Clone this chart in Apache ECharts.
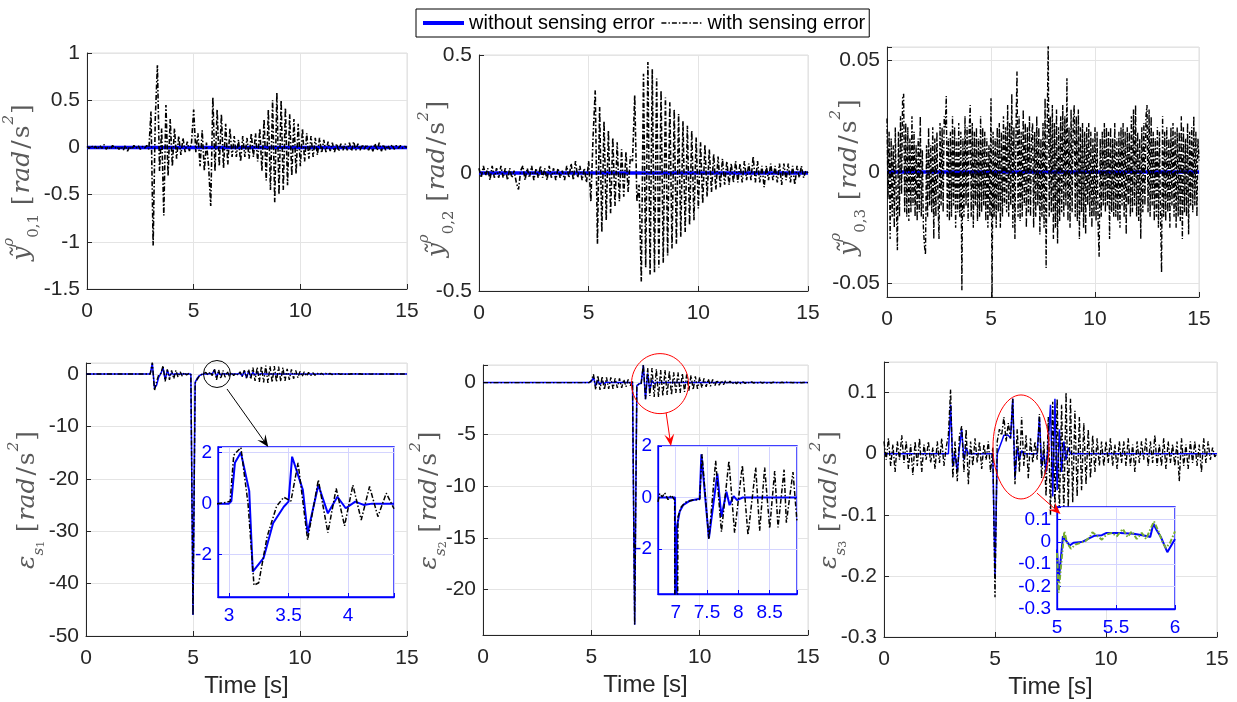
<!DOCTYPE html>
<html>
<head>
<meta charset="utf-8">
<title>sensing error</title>
<script src="https://cdn.jsdelivr.net/npm/echarts@6/dist/echarts.min.js"></script>
<style>
    html, body { margin: 0; padding: 0; background: #fff; }
    #main { width: 1237px; height: 702px; }
</style>
</head>
<body>
<div id="main"></div>
<script>
// sample step of the long records [s]
var dt = 0.1;
var dt3 = 0.05;
var tSpan = [0, 15];
var flatOk = [0, 0];

// top row, with sensing error (0 .. 15 s, one value every 0.1 s)
var y01Err = [
    0.01,-0.01,0.02,-0.01,0.01,-0.02,0.02,-0.01,0.03,-0.02,
    0.01,-0.02,0.02,-0.01,0.01,-0.02,0.01,-0.03,0.02,-0.04,
    0.01,-0.02,0.02,-0.01,0.02,-0.02,0.01,-0.01,0.02,-0.02,
    0.38,-1.04,0.3,0.87,-0.25,0.2,-0.72,0.45,-0.3,0.3,
    -0.2,0.2,-0.12,0.12,-0.08,0.1,-0.05,0.06,-0.04,0.05,
    0.4,-0.05,0.15,-0.2,0.18,-0.25,0.05,-0.2,-0.62,0.53,
    -0.25,0.4,-0.2,0.35,-0.22,0.25,-0.18,0.2,-0.1,0.12,
    -0.1,0.08,-0.15,0.12,-0.1,0.1,-0.12,0.15,-0.1,0.15,
    -0.15,0.2,-0.25,0.3,-0.35,0.4,-0.45,0.5,-0.58,0.58,
    -0.5,0.5,-0.45,0.42,-0.4,0.35,-0.3,0.3,-0.28,0.25,
    -0.2,0.2,-0.15,0.15,-0.12,0.12,-0.1,0.1,-0.08,0.1,
    -0.06,0.08,-0.05,0.06,-0.04,0.05,-0.05,0.04,-0.04,0.04,
    -0.03,0.04,-0.03,0.05,-0.04,0.06,-0.03,0.04,-0.03,0.03,
    -0.02,0.03,-0.03,0.02,-0.04,0.04,-0.03,0.05,-0.04,0.03,
    -0.03,0.02,-0.02,0.03,-0.02,0.02,-0.01,0.02,-0.01,0.01,
    0
];
var y02Err = [
    0.02,-0.02,0.03,-0.01,0.02,-0.03,0.03,-0.02,0.02,-0.02,
    0.03,-0.02,0.02,-0.03,0.02,-0.02,0.01,-0.04,-0.07,0.01,
    0.03,-0.03,0.02,-0.02,0.03,-0.03,0.02,-0.02,0.03,-0.02,
    0.02,-0.03,0.03,-0.02,0.02,-0.03,0.02,-0.02,0.01,-0.03,
    0.03,-0.02,0.04,-0.03,0.05,-0.02,0.03,-0.03,0.02,-0.04,
    0.05,-0.12,0.15,0.35,-0.3,0.28,-0.25,0.22,-0.2,0.18,
    -0.17,0.15,-0.14,0.13,-0.12,0.1,-0.1,0.09,-0.08,0.07,
    0.05,0.33,-0.12,-0.05,-0.46,0.42,-0.4,0.47,-0.43,0.44,
    -0.42,0.4,-0.4,0.35,-0.38,0.32,-0.35,0.3,-0.32,0.27,
    -0.3,0.25,-0.27,0.22,-0.25,0.2,-0.22,0.18,-0.2,0.15,
    -0.15,0.13,-0.13,0.12,-0.1,0.1,-0.08,0.08,-0.07,0.07,
    -0.06,0.06,-0.05,0.05,-0.05,0.04,-0.04,0.05,-0.04,0.04,
    -0.04,0.05,-0.03,0.04,-0.03,0.07,-0.04,0.05,-0.04,0.03,
    -0.06,0.03,-0.03,0.04,-0.03,0.03,-0.04,0.04,-0.05,0.04,
    -0.03,0.04,-0.04,0.03,-0.05,0.03,-0.02,0.03,-0.02,0.01,
    0
];
// third channel is pure noise, read at 0.05 s
var y03Err = [
    0.024,-0.012,0.018,-0.03,0.015,-0.02,0.012,-0.025,0.02,-0.015,-0.035,0.018,-0.02,0.025,-0.01,0.033,0.035,-0.018,0.022,-0.02,
    0.02,-0.022,0.015,-0.018,0.025,-0.015,0.018,-0.02,0.012,-0.022,0.015,-0.018,0.025,-0.02,0.01,-0.025,-0.033,-0.037,0.012,-0.02,
    0.02,-0.015,0.012,-0.018,0.02,-0.03,0.015,-0.02,0.018,-0.012,-0.03,0.022,-0.015,0.02,-0.018,0.025,0.02,0.034,-0.02,0.015,
    -0.022,0.018,-0.02,0.025,-0.015,0.02,-0.025,0.015,-0.018,0.022,-0.02,0.018,-0.053,0.015,-0.02,0.025,-0.015,0.02,-0.022,0.018,
    0.03,-0.02,0.022,-0.025,0.018,-0.015,0.02,-0.022,0.015,-0.02,0.025,-0.018,0.02,-0.015,0.018,-0.022,0.015,-0.025,0.012,-0.02,
    0.033,-0.057,0.018,-0.02,0.015,-0.025,0.02,-0.018,0.022,-0.025,0.018,-0.02,0.025,-0.015,0.02,-0.018,0.03,-0.02,0.022,-0.015,
    0.035,-0.025,0.02,-0.03,0.018,0.045,-0.02,0.025,-0.022,0.018,-0.02,0.028,-0.015,0.022,-0.025,0.02,-0.018,0.025,-0.02,0.015,
    0.022,-0.025,0.018,-0.02,0.025,-0.015,0.02,-0.028,0.015,-0.02,0.022,-0.025,0.033,-0.043,0.02,0.057,-0.02,0.025,-0.018,0.03,
    -0.03,0.022,-0.025,0.028,-0.032,0.02,-0.022,0.025,-0.018,0.03,-0.02,0.025,-0.015,0.042,-0.022,0.02,-0.025,0.028,-0.018,0.022,
    0.03,-0.02,0.025,-0.022,0.028,-0.03,0.02,-0.018,0.022,-0.025,0.018,-0.028,0.02,-0.015,0.022,-0.02,0.018,-0.025,0.015,-0.02,
    0.02,-0.022,0.018,-0.025,-0.038,0.015,-0.02,0.018,-0.015,0.022,-0.018,0.02,-0.015,0.018,-0.03,0.02,-0.018,0.015,-0.02,0.022,
    -0.02,0.015,-0.022,0.018,-0.025,0.02,-0.015,0.022,-0.02,0.018,-0.028,0.02,-0.015,0.018,-0.02,0.025,-0.018,0.028,-0.015,0.03,
    -0.02,0.018,-0.022,0.015,-0.03,0.02,-0.018,0.022,-0.015,0.025,0.03,-0.018,0.028,-0.02,0.025,-0.015,0.018,-0.022,0.015,-0.02,
    0.02,-0.025,0.018,-0.02,-0.045,0.025,-0.02,0.018,-0.022,0.02,-0.018,0.015,-0.025,0.02,-0.015,0.022,-0.02,0.018,-0.025,0.02,
    -0.02,0.018,-0.022,0.025,-0.03,0.02,-0.018,0.015,-0.02,0.022,-0.028,0.018,-0.015,0.02,-0.018,0.025,-0.015,0.018,-0.02,0.015,
    0.005
];

// bottom row (0 .. 15 s, one value every 0.1 s)
var e1Ok = [
    0,0,0,0,0,0,0,0,0,0,
    0,0,0,0,0,0,0,0,0,0,
    0,0,0,0,0,0,0,0,0,0,
    0,2.0,-2.7,-2.1,-0.6,0.1,1.2,-1.1,0.7,-0.4,
    0.2,-0.1,0.05,0,0,0,0,0,0,0,
    -46,-1.6,-0.8,-0.3,-0.1,0,0,0,0.1,0,
    0.8,-0.5,0.3,-0.2,0.1,0,0,0,0,0,
    0,0,0.2,-0.4,0.6,-0.7,0.5,-0.4,0.3,-0.2,
    0.2,-0.1,0.1,0,0,0,0,0,0,0,
    0,0,0,0,0,0,0,0,0,0,
    0,0,0,0,0,0,0,0,0,0,
    0,0,0,0,0,0,0,0,0,0,
    0,0,0,0,0,0,0,0,0,0,
    0,0,0,0,0,0,0,0,0,0,
    0,0,0,0,0,0,0,0,0,0,
    0
];
var e1Err = [
    0,0,0,0,0,0,0,0,0,0,
    0,0,0,0,0,0,0,0,0,0,
    0,0,0,0,0,0,0,0,0,0,
    0,2.2,-3.2,-1.4,-0.1,0.1,1.6,-1.4,0.9,-1.1,
    0.7,-0.9,0.7,-0.6,0.4,-0.4,0.3,-0.2,0.1,0,
    -46,-1.8,-1.0,-0.4,-0.1,0.1,0.3,-0.2,0.4,-0.3,
    1.0,-1.1,0.8,-0.9,0.7,-0.6,0.5,-0.4,0.3,-0.3,
    0.2,-0.2,0.4,-0.5,0.7,-0.8,0.9,-1.0,1.2,-1.3,
    1.3,-1.5,1.5,-1.6,1.6,-1.7,1.5,-1.6,1.5,-1.5,
    1.4,-1.4,1.2,-1.3,1.0,-1.1,0.9,-0.9,0.7,-0.7,
    0.5,-0.5,0.4,-0.4,0.3,-0.3,0.25,-0.25,0.2,-0.2,
    0.15,-0.15,0.12,-0.12,0.1,-0.1,0.1,-0.08,0.08,-0.08,
    0.06,-0.06,0.06,-0.05,0.05,-0.05,0.04,-0.04,0.04,-0.04,
    0.03,-0.03,0.03,-0.03,0.03,-0.03,0.02,-0.02,0.02,-0.02,
    0.02,-0.02,0.01,-0.01,0.01,-0.01,0.01,-0.01,0,0,
    0
];
var e2Ok = [
    0,0,0,0,0,0,0,0,0,0,
    0,0,0,0,0,0,0,0,0,0,
    0,0,0,0,0,0,0,0,0,0,
    0,0,0,0,0,0,0,0,0,0,
    0,0,0,0,0,0,0,0,0,0,
    0.1,0.5,-0.3,0.2,-0.2,0.1,-0.1,0.05,0,0,
    0,0,0,0,0,0,0,0,0,0,
    -23.4,-0.3,-0.13,-0.05,1.7,-1.6,0.9,-0.75,0.2,-0.1,
    0,0,0,0,0,0,0,0,0,0,
    0,0,0,0,0,0,0,0,0,0,
    0,0,0,0,0,0,0,0,0,0,
    0,0,0,0,0,0,0,0,0,0,
    0,0,0,0,0,0,0,0,0,0,
    0,0,0,0,0,0,0,0,0,0,
    0,0,0,0,0,0,0,0,0,0,
    0
];
var e2Err = [
    0,0,0,0,0,0,0,0,0,0,
    0,0,0,0,0,0,0,0,0,0,
    0,0,0,0,0,0,0,0,0,0,
    0,0,0,0,0,0,0,0,0,0,
    0,0,0,0,0,0,0,0,0,0,
    0.2,0.8,-0.7,0.7,-0.7,0.6,-0.7,0.5,-0.6,0.5,
    -0.6,0.4,-0.5,0.4,-0.5,0.3,-0.4,0.3,-0.3,0.2,
    -23.4,-0.4,-0.1,-0.1,1.7,-1.6,1.4,-1.3,1.4,-1.4,
    1.3,-1.4,1.2,-1.3,1.2,-1.2,1.1,-1.2,1.0,-1.0,
    1.0,-1.0,0.9,-0.9,0.8,-0.8,0.7,-0.7,0.6,-0.6,
    0.5,-0.5,0.4,-0.4,0.35,-0.35,0.3,-0.3,0.25,-0.25,
    0.2,-0.2,0.2,-0.15,0.15,-0.15,0.1,-0.1,0.1,-0.1,
    0.08,-0.08,0.08,-0.07,0.07,-0.06,0.06,-0.06,0.05,-0.05,
    0.05,-0.05,0.04,-0.04,0.04,-0.04,0.03,-0.03,0.03,-0.03,
    0.03,-0.03,0.02,-0.02,0.02,-0.02,0.01,-0.01,0.01,0,
    0
];
var e3Ok = [
    0,0,0,0,0,0,0,0,0,0,
    0,0,0,0,0,0,0,0,0,0,
    0,0,0,0,0,0,0,0,0,0,
    0.08,-0.02,0,-0.03,0.01,0.04,-0.01,0.01,0,0,
    0,0,0,0,0,0,0,0,0,0,
    -0.2,0,0.01,0.02,0.03,0.03,0.03,0.025,0.09,-0.04,
    0.01,-0.01,0.005,0,0,0,0,0,0,0,
    0.06,-0.02,0,-0.03,0.02,0.08,-0.07,0.09,-0.06,0.04,
    -0.03,0.02,-0.01,0.01,0,0,0,0,0,0,
    0,0,0,0,0,0,0,0,0,0,
    0,0,0,0,0,0,0,0,0,0,
    0,0,0,0,0,0,0,0,0,0,
    0,0,0,0,0,0,0,0,0,0,
    0,0,0,0,0,0,0,0,0,0,
    0,0,0,0,0,0,0,0,0,0,
    0
];
var e3Err = [
    0.02,-0.01,0.025,-0.02,0.015,-0.03,0.02,-0.01,0.03,-0.015,
    0.02,-0.025,0.015,-0.035,0.02,-0.02,0.025,-0.03,0.015,-0.01,
    0.02,-0.015,0.01,-0.025,0.02,-0.015,0.025,-0.02,0.01,0.03,
    0.105,-0.04,0.02,-0.045,0.03,0.045,-0.03,0.04,-0.05,0.02,
    -0.02,0.025,-0.015,0.02,-0.025,0.015,-0.01,0.02,-0.03,0.01,
    -0.235,0.02,0.04,0.03,0.06,0.02,0.05,0.025,0.09,-0.05,
    0.04,-0.03,0.06,-0.02,0.03,-0.04,0.025,-0.015,0.02,-0.01,
    0.065,-0.04,0.02,-0.07,0.06,-0.1,0.085,-0.09,0.09,-0.1,
    0.08,-0.1,0.1,-0.09,0.09,-0.08,0.07,-0.07,0.06,-0.06,
    0.05,-0.05,0.04,-0.04,0.03,-0.03,0.025,-0.02,0.02,-0.02,
    0.02,-0.015,0.025,-0.02,0.015,-0.025,0.02,-0.015,0.02,-0.02,
    0.025,-0.02,0.015,-0.03,0.02,-0.015,0.02,-0.01,0.025,-0.02,
    0.02,-0.015,0.03,-0.02,0.015,-0.02,0.025,-0.025,0.02,-0.015,
    0.015,-0.02,0.02,-0.045,0.025,-0.02,0.015,-0.025,0.02,-0.015,
    0.02,-0.02,0.015,-0.03,0.025,-0.015,0.02,-0.01,0.01,-0.005,
    0
];

// zoomed windows
var in1TOk = [2.9, 3.0, 3.02, 3.05, 3.1, 3.17, 3.2, 3.29, 3.37, 3.46, 3.5, 3.53, 3.62, 3.66, 3.75, 3.83, 3.91, 3.98, 4.06, 4.13, 4.2, 4.385];
var in1Ok = [0, 0, 0.1, 1.6, 2.0, 0.5, -2.67, -2.14, -0.77, -0.12, 0.08, 1.84, 0.54, -1.16, 0.73, -0.38, 0.27, -0.18, 0.08, -0.05, 0, 0];
var in1TErr = [2.9, 2.98, 3.01, 3.04, 3.1, 3.16, 3.21, 3.25, 3.32, 3.4, 3.46, 3.52, 3.58, 3.66, 3.75, 3.83, 3.9, 3.97, 4.04, 4.11, 4.18, 4.25, 4.32, 4.385];
var in1Err = [0, 0.05, 0.1, 1.9, 2.2, 0.0, -3.2, -3.1, -1.3, -0.1, 0.25, 0.1, 1.6, -1.42, 0.93, -1.14, 0.6, -0.87, 0.73, -0.64, 0.67, -0.51, 0.41, -0.2];

var in2TOk = [6.718, 6.99, 7.0, 7.02, 7.064, 7.117, 7.223, 7.383, 7.41, 7.53, 7.665, 7.73, 7.81, 7.86, 7.925, 7.98, 8.07, 8.936];
var in2Ok = [0, 0, -23.4, -1.14, -0.55, -0.3, -0.13, -0.05, 1.68, -1.59, 0.93, -0.75, 0.22, -0.3, 0.05, -0.1, 0, 0];
var in2TErr = [6.718, 6.745, 6.787, 6.824, 6.878, 6.93, 6.984, 7.0, 7.037, 7.09, 7.17, 7.277, 7.383, 7.42, 7.53, 7.638, 7.73, 7.85, 7.94, 8.064, 8.154, 8.277, 8.34, 8.42, 8.5, 8.58, 8.633, 8.73, 8.766, 8.872, 8.936];
var in2Err = [-0.17, 0.15, 0.02, 0.18, -0.08, 0.09, -0.1, -23.4, -0.75, -0.36, -0.17, -0.1, -0.08, 1.68, -1.63, 1.42, -1.33, 1.42, -1.37, 1.25, -1.46, 1.16, -1.29, 1.16, -1.2, 1.03, -1.16, 1.08, -0.98, 0.99, -0.94];

var in3TOk = [5.0, 5.014, 5.05, 5.08, 5.107, 5.14, 5.21, 5.28, 5.32, 5.38, 5.42, 5.535, 5.65, 5.77, 5.79, 5.817, 5.845, 5.88, 5.935, 6.0];
var in3Ok = [-0.034, -0.18, 0.025, 0.003, -0.016, -0.004, -0.001, 0.018, 0.028, 0.03, 0.04, 0.04, 0.036, 0.025, 0.022, 0.081, 0.052, 0.022, -0.046, 0.013];
var in3TErr = [5.0, 5.014, 5.034, 5.062, 5.085, 5.118, 5.155, 5.197, 5.24, 5.28, 5.30, 5.344, 5.38, 5.42, 5.465, 5.507, 5.558, 5.597, 5.634, 5.676, 5.718, 5.755, 5.783, 5.822, 5.86, 5.896, 5.924, 5.958, 6.0];
var in3Err = [-0.05, -0.227, -0.108, 0.047, -0.004, -0.031, -0.012, -0.004, 0.003, 0.022, 0.043, 0.025, 0.01, 0.033, 0.04, 0.025, 0.058, 0.022, 0.047, 0.013, 0.04, 0.013, 0.047, 0.092, 0.047, -0.004, -0.027, -0.004, 0.047];

// axis ranges and tick steps
var yMin = [-1.5, -0.5, -0.056, -50, -24.4, -0.3];
var yMax = [1, 0.5, 0.056, 2.1, 1.7, 0.15];
var ySplit = [5, 2, 2, 5, 5, 4];
var yStep = [0.5, 0.5, 0.05, 10, 5, 0.1];
var inXMin = [2.908, 6.718, 5], inXMax = [4.385, 8.936, 6], inXSplit = [3, 4, 2];
var inYMin = [-3.66, -3.75, -0.3], inYMax = [2.22, 2, 0.156], inYSplit = [3, 3, 4], inYStep = [2, 2, 0.1];

var legendNames = ['without sensing error', 'with sensing error'];
var yNames = [
    '{y|ỹ}{sp|ρ}{sb|0,1}{g|  }{r|[}{m|rad}{r|/}{r|s}{sp|2}{r|]}',
    '{y|ỹ}{sp|ρ}{sb|0,2}{g|  }{r|[}{m|rad}{r|/}{r|s}{sp|2}{r|]}',
    '{y|ỹ}{sp|ρ}{sb|0,3}{g|  }{r|[}{m|rad}{r|/}{r|s}{sp|2}{r|]}',
    '{y|ε}{si|s}{sbb|1}{g|  }{r|[}{m|rad}{r|/}{r|s}{sp|2}{r|]}',
    '{y|ε}{si|s}{sbb|2}{g|  }{r|[}{m|rad}{r|/}{r|s}{sp|2}{r|]}',
    '{y|ε}{si|s}{sbb|3}{g|  }{r|[}{m|rad}{r|/}{r|s}{sp|2}{r|]}'
];

// layout (pixels)
var mainBox = [
    {left: 87, top: 53, width: 320, height: 236},
    {left: 479, top: 55, width: 329, height: 236},
    {left: 887, top: 47, width: 312, height: 250},
    {left: 86, top: 363, width: 321, height: 273},
    {left: 483, top: 365, width: 325, height: 270},
    {left: 884, top: 362, width: 333, height: 275}
];
var insetBox = [
    {left: 218, top: 447, width: 176, height: 150},
    {left: 658, top: 446, width: 139, height: 148},
    {left: 1057, top: 507, width: 118, height: 102}
];
var nameGapY = [45, 22, 18, 39, 34, 35];
var nameShift = [22, 11, 10, 0, 0, 0];

var SANS = 'Liberation Sans, Arial, sans-serif';
var SERIF = 'DejaVu Serif, Liberation Serif, serif';
var INK = '#262626';
var LAB = '#5a5a5a';
var DASHDOT = [5, 2, 1.5, 2];

function uniform(vals, step) {
    return vals.map(function (v, i) { return [Math.round(i * step * 1000) / 1000, v]; });
}
function zip(ts, vs) {
    return ts.map(function (t, i) { return [t, vs[i]]; });
}
// only label the round ticks, hide the extra ones at the box edges
function stepLabel(step) {
    return function (v) {
        var k = v / step;
        if (Math.abs(k - Math.round(k)) > 1e-6) return '';
        return String(+v.toFixed(6));
    };
}

var nameRich = {
    y: {fontFamily: SERIF, fontStyle: 'italic', fontSize: 25, color: LAB, lineHeight: 40, verticalAlign: 'middle'},
    m: {fontFamily: SERIF, fontStyle: 'italic', fontSize: 25, color: LAB, lineHeight: 40, verticalAlign: 'middle', padding: [0, 1]},
    r: {fontFamily: SERIF, fontSize: 25, color: LAB, lineHeight: 40, verticalAlign: 'middle', padding: [0, 1]},
    g: {fontFamily: SERIF, fontSize: 12, color: LAB, lineHeight: 40},
    sp: {fontFamily: SERIF, fontStyle: 'italic', fontSize: 15, color: LAB, lineHeight: 19, verticalAlign: 'top'},
    sb: {fontFamily: SERIF, fontSize: 15, color: LAB, lineHeight: 19, verticalAlign: 'bottom'},
    si: {fontFamily: SERIF, fontStyle: 'italic', fontSize: 15, color: LAB, lineHeight: 19, verticalAlign: 'bottom'},
    sbb: {fontFamily: SERIF, fontSize: 11, color: LAB, lineHeight: 11, verticalAlign: 'bottom'}
};

var grid = [], xAxis = [], yAxis = [], series = [];

mainBox.forEach(function (b, i) {
    grid.push({left: b.left, top: b.top, width: b.width, height: b.height,
        show: true, borderColor: '#dedede', borderWidth: 1, backgroundColor: '#fff'});
    xAxis.push({
        gridIndex: i, type: 'value', min: 0, max: 15, splitNumber: 3,
        name: i >= 3 ? 'Time [s]' : '', nameLocation: 'middle', nameGap: 38, nameMoveOverlap: false,
        nameTextStyle: {fontFamily: SANS, fontSize: 24, color: INK},
        axisLine: {show: true, onZero: false, lineStyle: {color: INK, width: 1}},
        axisTick: {show: true, inside: true, length: 5, lineStyle: {color: INK}},
        axisLabel: {fontFamily: SANS, fontSize: 21, color: INK, margin: 12, formatter: stepLabel(5)},
        splitLine: {show: true, lineStyle: {color: '#e4e4e4', width: 1}}
    });
    yAxis.push({
        gridIndex: i, type: 'value', min: yMin[i], max: yMax[i], splitNumber: ySplit[i],
        name: yNames[i], nameLocation: 'middle', nameRotate: 90, nameGap: nameGapY[i], nameMoveOverlap: false,
        nameTextStyle: {rich: nameRich, fontFamily: SERIF, fontSize: 25, color: LAB, padding: [0, nameShift[i], 0, 0]},
        axisLine: {show: true, onZero: false, lineStyle: {color: INK, width: 1}},
        axisTick: {show: true, inside: true, length: 5, lineStyle: {color: INK}},
        axisLabel: {fontFamily: SANS, fontSize: 21, color: INK, margin: 7, formatter: stepLabel(yStep[i])},
        splitLine: {show: true, lineStyle: {color: '#e4e4e4', width: 1}}
    });
});

insetBox.forEach(function (b, k) {
    var gi = 6 + k;
    grid.push({left: b.left, top: b.top, width: b.width, height: b.height, z: 10,
        show: true, borderColor: '#0000ff', borderWidth: 1.3, backgroundColor: '#fff'});
    xAxis.push({
        gridIndex: gi, type: 'value', min: inXMin[k], max: inXMax[k], splitNumber: inXSplit[k], z: 11,
        axisLine: {show: true, onZero: false, lineStyle: {color: '#0000ff', width: 1.3}},
        axisTick: {show: true, inside: true, length: 4, lineStyle: {color: '#0000ff'}},
        axisLabel: {fontFamily: SANS, fontSize: 19, color: '#0000ff', margin: 9, formatter: stepLabel(0.5)},
        splitLine: {show: true, lineStyle: {color: '#d4d4ff', width: 1}}
    });
    yAxis.push({
        gridIndex: gi, type: 'value', min: inYMin[k], max: inYMax[k], splitNumber: inYSplit[k], z: 11,
        axisLine: {show: true, onZero: false, lineStyle: {color: '#0000ff', width: 1.3}},
        axisTick: {show: true, inside: true, length: 4, lineStyle: {color: '#0000ff'}},
        axisLabel: {fontFamily: SANS, fontSize: 19, color: '#0000ff', margin: 6, formatter: stepLabel(inYStep[k])},
        splitLine: {show: true, lineStyle: {color: '#d4d4ff', width: 1}}
    });
});

function line(name, gi, data, color, width, dash, z) {
    return {
        name: name, type: 'line', xAxisIndex: gi, yAxisIndex: gi, data: data,
        symbol: 'none', showSymbol: false, silent: true, z: z,
        lineStyle: {color: color, width: width, type: dash || 'solid'},
        itemStyle: {color: color}
    };
}

var flat = zip(tSpan, flatOk);
series.push(line(legendNames[0], 0, flat, '#0000ff', 3.5, null, 2));
series.push(line(legendNames[1], 0, uniform(y01Err, dt), '#000', 1.6, DASHDOT, 3));
series.push(line(legendNames[0], 1, flat, '#0000ff', 3.5, null, 2));
series.push(line(legendNames[1], 1, uniform(y02Err, dt), '#000', 1.6, DASHDOT, 3));
series.push(line(legendNames[0], 2, flat, '#0000ff', 3.5, null, 2));
series.push(line(legendNames[1], 2, uniform(y03Err, dt3), '#000', 1.4, DASHDOT, 3));
series.push(line(legendNames[0], 3, uniform(e1Ok, dt), '#0000ff', 1.5, null, 2));
series.push(line(legendNames[1], 3, uniform(e1Err, dt), '#000', 1.4, DASHDOT, 3));
series.push(line(legendNames[0], 4, uniform(e2Ok, dt), '#0000ff', 1.5, null, 2));
series.push(line(legendNames[1], 4, uniform(e2Err, dt), '#000', 1.4, DASHDOT, 3));
series.push(line(legendNames[0], 5, uniform(e3Ok, dt), '#0000ff', 1.5, null, 2));
series.push(line(legendNames[1], 5, uniform(e3Err, dt), '#000', 1.4, DASHDOT, 3));
series.push(line(legendNames[0], 6, zip(in1TOk, in1Ok), '#0000ff', 2, null, 12));
series.push(line(legendNames[1], 6, zip(in1TErr, in1Err), '#000', 1.5, DASHDOT, 13));
series.push(line(legendNames[0], 7, zip(in2TOk, in2Ok), '#0000ff', 2, null, 12));
series.push(line(legendNames[1], 7, zip(in2TErr, in2Err), '#000', 1.5, DASHDOT, 13));
series.push(line(legendNames[0], 8, zip(in3TOk, in3Ok), '#0000ff', 2, null, 12));
series.push(line(legendNames[1], 8, zip(in3TErr, in3Err), '#77ac30', 2, DASHDOT, 13));

var myChart = echarts.init(document.getElementById('main'));

myChart.setOption({
    animation: false,
    backgroundColor: '#fff',
    legend: {
        data: [
            {name: legendNames[0], lineStyle: {width: 4, color: '#0000ff'}},
            {name: legendNames[1], lineStyle: {width: 1.5, color: '#000'}}
        ],
        left: 416, top: 9, orient: 'horizontal',
        itemWidth: 41, itemHeight: 12, itemGap: 6, padding: [4, 4, 4, 5],
        borderColor: '#000', borderWidth: 1, backgroundColor: '#fff',
        itemStyle: {opacity: 0},
        textStyle: {fontFamily: SANS, fontSize: 20, color: '#000'},
        selectedMode: false
    },
    grid: grid,
    xAxis: xAxis,
    yAxis: yAxis,
    series: series
});

// circles and arrows pointing to the zoomed windows
function px(gi, p) {
    return myChart.convertToPixel({gridIndex: gi}, p);
}
function arrow(a, b, color) {
    var dx = b[0] - a[0], dy = b[1] - a[1];
    var len = Math.sqrt(dx * dx + dy * dy), ux = dx / len, uy = dy / len;
    var L = 12, W = 5;
    var bx = b[0] - ux * L, by = b[1] - uy * L;
    return [
        {type: 'line', z: 30, shape: {x1: a[0], y1: a[1], x2: b[0] - ux * 6, y2: b[1] - uy * 6},
            style: {stroke: color, lineWidth: 1}},
        {type: 'polygon', z: 30,
            shape: {points: [[b[0], b[1]], [bx - uy * W, by + ux * W], [b[0] - ux * L * 0.6, b[1] - uy * L * 0.6], [bx + uy * W, by - ux * W]]},
            style: {fill: color}}
    ];
}

var c1 = px(3, [6.12, 0]);
var c2 = px(4, [8.17, -0.1]);
var c3 = px(5, [6.17, 0.011]);
var marks = [
    {type: 'circle', z: 30, shape: {cx: c1[0], cy: c1[1], r: 13.5}, style: {fill: 'none', stroke: '#000', lineWidth: 1}},
    {type: 'ellipse', z: 30, shape: {cx: c2[0], cy: c2[1], rx: 28.5, ry: 30}, style: {fill: 'none', stroke: '#ff0000', lineWidth: 1}},
    {type: 'ellipse', z: 30, shape: {cx: c3[0], cy: c3[1], rx: 28, ry: 52}, style: {fill: 'none', stroke: '#ff0000', lineWidth: 1}}
]
    .concat(arrow(px(3, [6.59, -2.86]), px(6, [3.33, 2.22]), '#000'))
    .concat(arrow(px(4, [8.45, -2.9]), px(7, [6.925, 2.0]), '#ff0000'))
    .concat(arrow(px(5, [6.89, -0.0645]), px(8, [5.03, 0.125]), '#ff0000'));

myChart.setOption({graphic: marks});

window.addEventListener('resize', function () {
    myChart.resize();
});
</script>
</body>
</html>
